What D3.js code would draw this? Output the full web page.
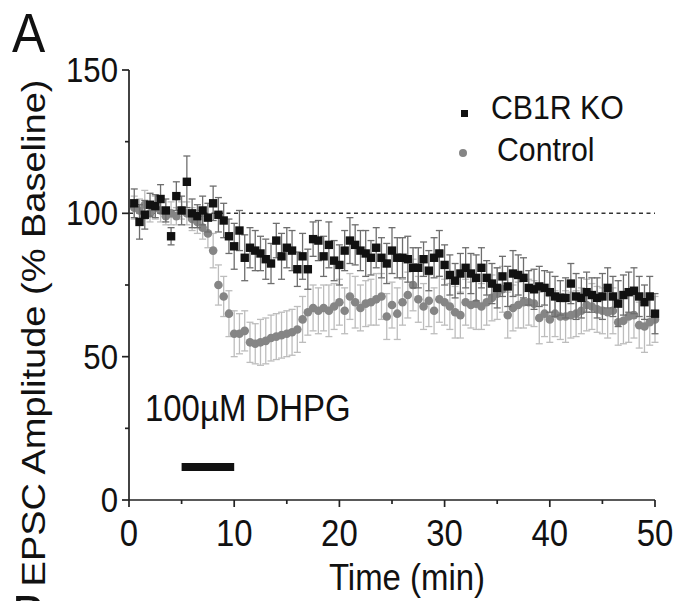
<!DOCTYPE html>
<html><head><meta charset="utf-8">
<script src="https://cdn.jsdelivr.net/npm/d3@7/dist/d3.min.js"></script>
<style>html,body{margin:0;padding:0;background:#fff;}svg{display:block;}</style>
</head><body>
<script>
// ---- data ----
const time = [0.5,1,1.5,2,2.5,3,3.5,4,4.5,5,5.5,6,6.5,7,7.5,8,8.5,9,9.5,10,
  10.5,11,11.5,12,12.5,13,13.5,14,14.5,15,15.5,16,16.5,17,17.5,18,18.5,19,19.5,20,
  20.5,21,21.5,22,22.5,23,23.5,24,24.5,25,25.5,26,26.5,27,27.5,28,28.5,29,29.5,30,
  30.5,31,31.5,32,32.5,33,33.5,34,34.5,35,35.5,36,36.5,37,37.5,38,38.5,39,39.5,40,
  40.5,41,41.5,42,42.5,43,43.5,44,44.5,45,45.5,46,46.5,47,47.5,48,48.5,49,49.5,50];
const koMean = [103.5,97,99.5,103,102.5,105,101,92,106,101,111,100,99,101,98.5,103.5,99.5,97.5,92,88.5,
  94,84.5,88,87,86,84,82.5,90.5,85,88,87,80.5,85,80.5,91,90.5,85,89,83.5,82,
  87,90.5,89,87,86,84.5,88,84.5,82.5,87,84.5,84.5,84,81,81,84,80,84.5,86,82,
  78.5,76.5,79,81,79,77.5,81,77.5,75.5,74,78,74.5,79,78.5,77.5,74,73.5,74.5,74,72.5,
  71,70.5,70.5,75.5,71,70.5,72.5,71.5,70.5,71,74,71,68.5,71.5,72.5,73,71,69,71,65];
const koErr = [5,6,5,4,4,5,4,3,5,5,9,5,4,5,5,6,6,6,6,8,
  7,8,7,7,6,7,7,6,8,7,7,6,8,7,6,7,7,8,7,7,
  7,8,7,7,8,6,7,7,7,8,7,7,8,7,7,6,7,7,8,7,
  7,6,7,7,7,8,7,6,7,7,7,7,8,7,7,6,7,7,6,7,
  7,6,7,7,8,7,7,6,7,8,7,7,8,7,7,8,7,6,7,7];
const ctrlMean = [102,101,103,100,102,101,99,100,99,101,100,98,97,95,93,87,75,71,65,58,
  58,59,55,54.5,55,55.5,56.5,57,57.5,58,58.5,59.5,63,65.5,67,66,67,66,67.5,69,
  66,71,69,67,68.5,69,70,71,64,68,65,69,71.5,75,70,67.5,69.5,66,70,69,
  67.5,65.5,64.5,69,68,68.5,67.5,69,70.5,72,73.5,64.5,67,68,69,69,68.5,63.5,65,63,
  65,64,64,64.5,65,66,68,67.5,66.5,66,65.5,66,62,62.5,64,64.5,61,60.5,62,63];
const ctrlErr = [4,4,5,3,4,4,3,4,3,3,4,4,4,4,5,6,7,7,8,8,
  7,7,7,7,8,8,8,8,8,8,8,8,8,8,8,8,8,9,8,8,
  8,8,9,8,8,8,9,8,8,8,9,8,8,9,8,8,9,8,8,8,
  8,9,8,8,8,9,8,8,8,9,8,8,8,8,9,8,8,9,8,8,
  8,8,9,8,8,8,9,8,8,8,9,8,8,8,9,8,8,9,8,8];
const xTicks = [0,10,20,30,40,50];
const xMinor = [5,15,25,35,45];
const yTicks = [0,50,100,150];
const yMinor = [25,75,125];
const seriesNames = ["CB1R KO","Control"];
const drugLabel = "100µM DHPG";
const drugWindow = [5,10];
const baselineLevel = 100;

// ---- layout ----
const W = 678, H = 601;
const x = d3.scaleLinear().domain([0,50]).range([129,655]);
const y = d3.scaleLinear().domain([0,150]).range([500,70]);
const FONT = "'Liberation Sans', Arial, sans-serif";
const SX = 0.89;

const svg = d3.select("body").append("svg").attr("width",W).attr("height",H)
  .style("font-family",FONT);

function txt(str, px, py, size, anchor, rot) {
  return svg.append("text")
    .attr("transform", `translate(${px},${py}) scale(${SX},1)` + (rot ? ` rotate(${rot})` : ""))
    .attr("text-anchor", anchor).attr("font-size", size).attr("fill","#111").text(str);
}

// panel labels
txt("A", 12, 52, 56, "start");
txt("B", 12, 634, 56, "start");

// axes
const ax = svg.append("g").attr("stroke","#222").attr("stroke-width",1.7).attr("fill","none");
ax.append("line").attr("x1",x(0)).attr("x2",x(0)).attr("y1",y(150)).attr("y2",y(0));
ax.append("line").attr("x1",x(0)).attr("x2",x(50)).attr("y1",y(0)).attr("y2",y(0));
yTicks.forEach(v=>ax.append("line").attr("x1",x(0)-7).attr("x2",x(0)).attr("y1",y(v)).attr("y2",y(v)));
yMinor.forEach(v=>ax.append("line").attr("x1",x(0)-4).attr("x2",x(0)).attr("y1",y(v)).attr("y2",y(v)));
xTicks.forEach(v=>ax.append("line").attr("x1",x(v)).attr("x2",x(v)).attr("y1",y(0)).attr("y2",y(0)+7));
xMinor.forEach(v=>ax.append("line").attr("x1",x(v)).attr("x2",x(v)).attr("y1",y(0)).attr("y2",y(0)+4));

yTicks.forEach(v=>txt(String(v), x(0)-11, y(v)+12, 35, "end"));
xTicks.forEach(v=>txt(String(v), x(v), 546, 37, "middle"));

txt("Time (min)", 407, 590, 37, "middle");
txt("EPSC Amplitude (% Baseline)", 45, 333, 38, "middle", -90);

// baseline dashed line
svg.append("line").attr("x1",x(0)).attr("x2",x(50)).attr("y1",y(baselineLevel)).attr("y2",y(baselineLevel))
  .attr("stroke","#333").attr("stroke-width",1.5).attr("stroke-dasharray","4,3.5");

// drug bar
txt(drugLabel, 145, 421, 37, "start");
svg.append("rect").attr("x",x(drugWindow[0])).attr("y",463).attr("width",x(drugWindow[1])-x(drugWindow[0])).attr("height",8).attr("fill","#111");

// error bars
function errBars(mean, err, color) {
  const g = svg.append("g").attr("stroke",color).attr("stroke-width",1.3);
  time.forEach((t,i)=>{
    const cx = x(t), y1 = y(mean[i]+err[i]), y2 = y(mean[i]-err[i]);
    g.append("line").attr("x1",cx).attr("x2",cx).attr("y1",y1).attr("y2",y2);
    g.append("line").attr("x1",cx-3.5).attr("x2",cx+3.5).attr("y1",y1).attr("y2",y1);
    g.append("line").attr("x1",cx-3.5).attr("x2",cx+3.5).attr("y1",y2).attr("y2",y2);
  });
}
errBars(ctrlMean, ctrlErr, "#bdbdbd");
svg.append("g").selectAll("circle").data(time).join("circle")
  .attr("cx",t=>x(t)).attr("cy",(t,i)=>y(ctrlMean[i])).attr("r",4.3).attr("fill","#858585");
errBars(koMean, koErr, "#6e6e6e");
svg.append("g").selectAll("rect").data(time).join("rect")
  .attr("x",t=>x(t)-4.2).attr("y",(t,i)=>y(koMean[i])-4.2).attr("width",8.4).attr("height",8.4).attr("fill","#111");

// legend
svg.append("rect").attr("x",461).attr("y",110).attr("width",7).attr("height",7).attr("fill","#111");
txt(seriesNames[0], 491, 119, 34, "start");
svg.append("circle").attr("cx",463).attr("cy",153).attr("r",4).attr("fill","#858585");
txt(seriesNames[1], 497, 161, 34, "start");
</script>
</body></html>
